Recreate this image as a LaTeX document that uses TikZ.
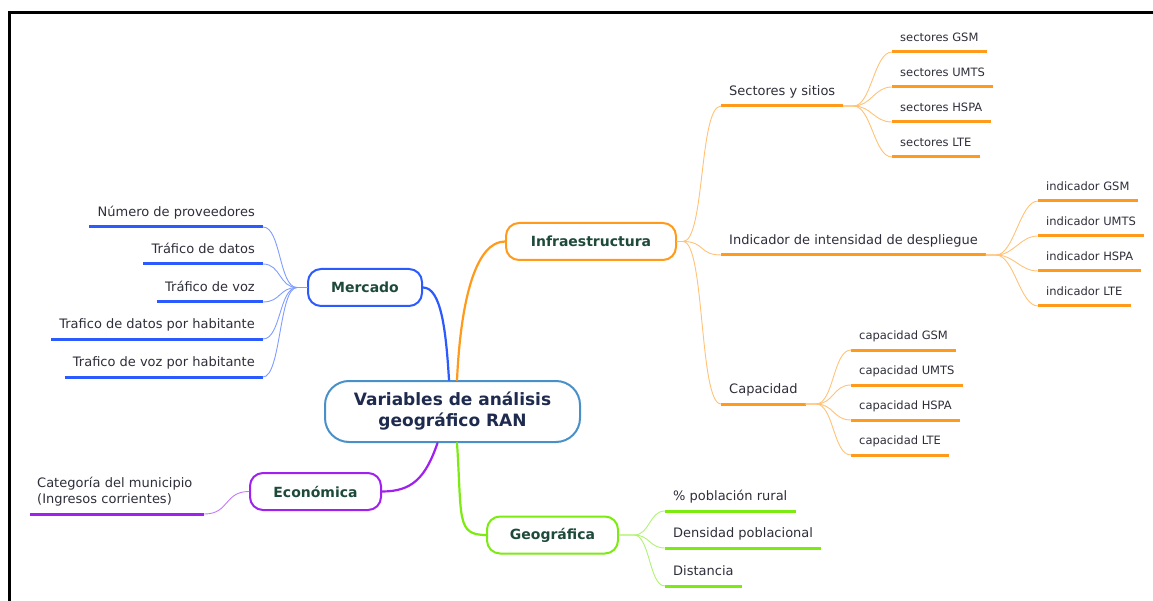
\documentclass[tikz,border=0pt]{standalone}
\usepackage{fontspec}
\setmainfont{DejaVu Sans}
\definecolor{mblue}{HTML}{2B5BFF}
\definecolor{morange}{HTML}{FF9A1A}
\definecolor{mpurple}{HTML}{A020F0}
\definecolor{mgreen}{HTML}{7CEB12}
\definecolor{rootblue}{HTML}{4A90C8}
\definecolor{roottext}{HTML}{1E2B4E}
\definecolor{topictext}{HTML}{1E4A3A}
\definecolor{leaftext}{HTML}{2E2E3A}
\begin{document}
\begin{tikzpicture}[x=1pt, y=-1pt, line join=round, line cap=round,
	topic/.style={draw, line width=2pt, rounded corners=13pt, fill=white, minimum height=37pt, inner sep=0pt, text=topictext, font=\bfseries\fontsize{14}{16}\selectfont},
	leafbase/.style={inner xsep=8pt, inner ysep=7pt, text=leaftext, font=\fontsize{13}{16}\selectfont},
	leaf/.style={leafbase, text height=10pt, text depth=3pt},
	subleaf/.style={leaf, text height=8.5pt, font=\fontsize{11.5}{14}\selectfont},
	uline/.style={line width=3pt, line cap=butt},
	twig/.style={line width=.9pt, #1!60},
	branch/.style={line width=2.2pt}]
	\useasboundingbox (0,0) rectangle (1153,601);
	\draw[line width=3pt, line cap=butt, line join=miter] (9.5,601) -- (9.5,12.5) -- (1153,12.5);
	\node[draw=rootblue, line width=2pt, rounded corners=24pt, fill=white, minimum width=255pt, minimum height=61pt, align=center, text=roottext, font=\bfseries\fontsize{17}{21}\selectfont] (root) at (452.5,411.5) {Variables de análisis\\geográfico RAN};
	\node[topic, draw=mblue, minimum width=114pt] (mercado) at (365,287.5) {Mercado};
	\node[topic, draw=morange, minimum width=170pt] (infra) at (591,241.5) {Infraestructura};
	\node[topic, draw=mpurple, minimum width=131pt] (eco) at (315.5,491.5) {Económica};
	\node[topic, draw=mgreen, minimum width=131pt] (geo) at (552.5,535) {Geográfica};
	\draw[branch, mblue] (mercado.east) .. controls +(18,0) and +(-3,-50) .. ([xshift=-3.5pt]root.north);
	\draw[branch, morange] ([xshift=4.5pt]root.north) .. controls +(4,-85) and +(-28,0) .. (infra.west);
	\draw[branch, mpurple] ([xshift=-15pt]root.south) .. controls +(-12,35) and +(30,0) .. (eco.east);
	\draw[branch, mgreen] ([xshift=4.5pt]root.south) .. controls +(5,75) and +(-30,0) .. (geo.west);
	\foreach \t/\y [count=\i] in {Número de proveedores/227, Tráfico de datos/264, Tráfico de voz/302, Trafico de datos por habitante/339, Trafico de voz por habitante/377}{
		\node[leaf, anchor=south east] (m\i) at (263,\y) {\t};
		\draw[uline, mblue] (m\i.south west) -- (m\i.south east);
		\draw[twig=mblue] (mercado.west) -- ++(-10,0) .. controls +(-18,0) and +(18,0) .. (m\i.south east);
	}
	\node[leaf, anchor=south west] (sect) at (721,106) {Sectores y sitios};
	\node[leaf, anchor=south west] (ind) at (721,255) {Indicador de intensidad de despliegue};
	\node[leaf, anchor=south west] (cap) at (721,404) {Capacidad};
	\foreach \n in {sect,ind,cap}{
		\draw[uline, morange] (\n.south west) -- (\n.south east);
		\draw[twig=morange] (infra.east) -- ++(6,0) .. controls +(22,0) and +(-22,0) .. (\n.south west);
	}
	\foreach \p/\w/\x/\y in {sect/sectores/892/106, ind/indicador/1038/255, cap/capacidad/851/404}
		\foreach \t/\d in {GSM/-54, UMTS/-19, HSPA/16, LTE/51}{
			\node[subleaf, anchor=south west] (\p\t) at (\x,{\y+(\d)}) {\w\ \t};
			\draw[uline, morange] (\p\t.south west) -- (\p\t.south east);
			\draw[twig=morange] (\p.south east) -- ++(10,0) .. controls +(18,0) and +(-18,0) .. (\p\t.south west);
		}
	\foreach \t/\y [count=\i] in {\% población rural/511, Densidad poblacional/548, Distancia/586}{
		\node[leaf, anchor=south west] (g\i) at (665,\y) {\t};
		\draw[uline, mgreen] (g\i.south west) -- (g\i.south east);
		\draw[twig=mgreen] (geo.east) -- ++(15,0) .. controls +(16,0) and +(-16,0) .. (g\i.south west);
	}
	\node[leafbase, anchor=south west, text width=160pt, align=left, inner xsep=7pt, inner ysep=8pt] (e1) at (30,514) {Categoría del municipio\\(Ingresos corrientes)};
	\draw[uline, mpurple] (e1.south west) -- (e1.south east);
	\draw[twig=mpurple] (eco.west) .. controls +(-25,0) and +(25,0) .. (e1.south east);
\end{tikzpicture}
\end{document}
